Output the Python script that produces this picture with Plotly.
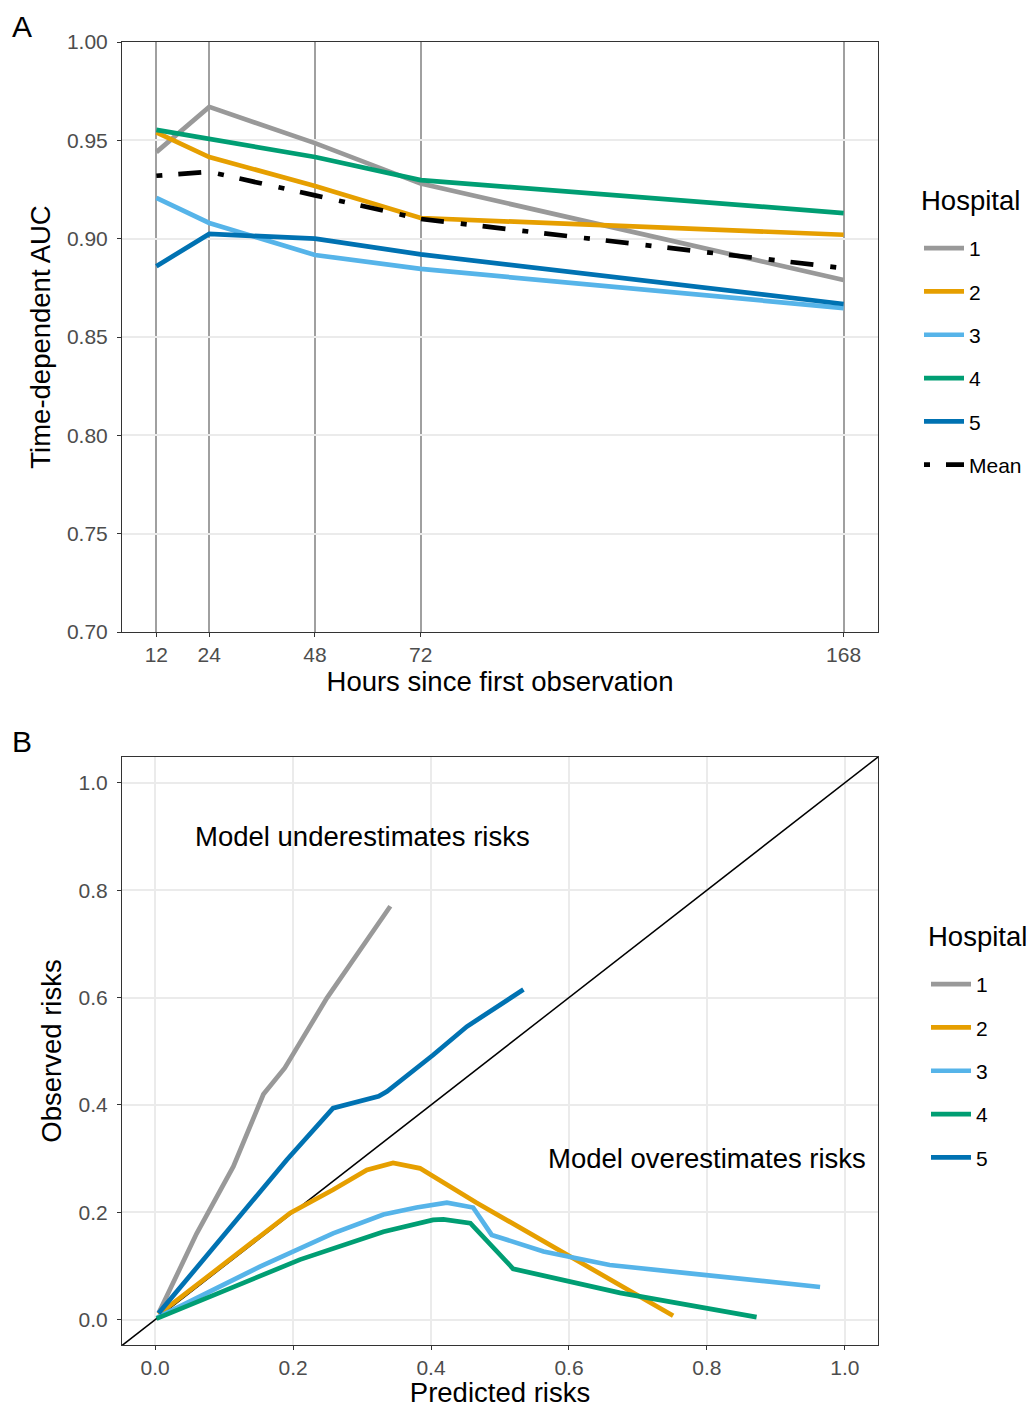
import plotly.graph_objects as go

# ---------------- Data: panel A ----------------
hours = [12, 24, 48, 72, 168]
hospitals = ["1", "2", "3", "4", "5"]
auc_h1 = [0.944, 0.967, 0.9486, 0.928, 0.879]
auc_h2 = [0.954, 0.9415, 0.9268, 0.9105, 0.902]
auc_h3 = [0.9207, 0.908, 0.8917, 0.8846, 0.8647]
auc_h4 = [0.9553, 0.9507, 0.9415, 0.9298, 0.913]
auc_h5 = [0.886, 0.9024, 0.900, 0.892, 0.8668]
auc_mean = [0.932, 0.934, 0.922, 0.910, 0.885]
auc_ticks = [0.70, 0.75, 0.80, 0.85, 0.90, 0.95, 1.00]

# ---------------- Data: panel B (calibration) ----------------
pred_h1 = [0.005, 0.06, 0.1135, 0.157, 0.188, 0.249, 0.341]
obs_h1 = [0.012, 0.16, 0.2855, 0.42, 0.469, 0.599, 0.770]
pred_h2 = [0.005, 0.196, 0.258, 0.307, 0.345, 0.384, 0.466, 0.601, 0.751]
obs_h2 = [0.010, 0.199, 0.242, 0.279, 0.292, 0.282, 0.218, 0.118, 0.0075]
pred_h3 = [0.003, 0.152, 0.258, 0.331, 0.379, 0.423, 0.461, 0.488, 0.563, 0.659, 0.771, 0.964]
obs_h3 = [0.004, 0.099, 0.161, 0.196, 0.209, 0.218, 0.209, 0.158, 0.127, 0.102, 0.087, 0.061]
pred_h4 = [0.002, 0.210, 0.331, 0.403, 0.418, 0.457, 0.519, 0.674, 0.872]
obs_h4 = [0.002, 0.112, 0.164, 0.186, 0.187, 0.180, 0.095, 0.050, 0.005]
pred_h5 = [0.005, 0.191, 0.258, 0.324, 0.336, 0.403, 0.452, 0.534]
obs_h5 = [0.012, 0.298, 0.394, 0.416, 0.425, 0.493, 0.546, 0.615]
risk_ticks = [0.0, 0.2, 0.4, 0.6, 0.8, 1.0]
identity = [-0.1, 1.1]

colors = ["#999999", "#E69F00", "#56B4E9", "#009E73", "#0072B2"]

FONT = "Liberation Sans, Arial, sans-serif"
W, H = 1035, 1408
LW = 4.7
TITLE_SIZE = 27.5

fig = go.Figure()

# Panel A traces
for name, vals, col in zip(hospitals, [auc_h1, auc_h2, auc_h3, auc_h4, auc_h5], colors):
    fig.add_trace(go.Scatter(x=hours, y=vals, mode="lines", name=name,
                             line=dict(color=col, width=LW),
                             xaxis="x", yaxis="y", legend="legend",
                             legendgroup="a" + name))
fig.add_trace(go.Scatter(x=hours, y=auc_mean, mode="lines", name="Mean",
                         line=dict(color="black", width=LW, dash="6px,16px,23px,17px"),
                         xaxis="x", yaxis="y", legend="legend", legendgroup="amean"))

# Panel B traces
fig.add_trace(go.Scatter(x=identity, y=identity, mode="lines", showlegend=False,
                         line=dict(color="black", width=1.5),
                         xaxis="x2", yaxis="y2", hoverinfo="skip"))
for name, px, oy, col in zip(hospitals,
                             [pred_h1, pred_h2, pred_h3, pred_h4, pred_h5],
                             [obs_h1, obs_h2, obs_h3, obs_h4, obs_h5], colors):
    fig.add_trace(go.Scatter(x=px, y=oy, mode="lines", name=name,
                             line=dict(color=col, width=LW),
                             xaxis="x2", yaxis="y2", legend="legend2",
                             legendgroup="b" + name))

def py(p):  # pixel y (from top) to paper
    return 1 - p / H

def pxp(p):
    return p / W

xdom = [pxp(122), pxp(878)]
axis_common = dict(
    showline=True, linecolor="#333333", linewidth=1, mirror=True,
    ticks="outside", ticklen=4, tickcolor="#333333", tickwidth=1,
    tickfont=dict(family=FONT, size=21, color="#4d4d4d"),
    zeroline=False, automargin=False,
)
title_font = dict(family=FONT, size=TITLE_SIZE, color="black")

fig.update_layout(
    width=W, height=H, margin=dict(l=0, r=0, t=0, b=0, autoexpand=False),
    paper_bgcolor="white", plot_bgcolor="white",
    font=dict(family=FONT, color="black"),
    xaxis=dict(domain=xdom, anchor="y", range=[4.2, 175.8], tickvals=hours,
               ticktext=[str(h) for h in hours],
               showgrid=True, gridcolor="#a0a0a0", gridwidth=2,
               title=dict(text="Hours since first observation", font=title_font, standoff=6),
               ticklabelstandoff=0, **axis_common),
    yaxis=dict(domain=[py(632), py(42)], anchor="x", range=[0.70, 1.00],
               tickvals=auc_ticks, tickformat=".2f",
               showgrid=True, gridcolor="#ebebeb", gridwidth=1.5,
               title=dict(text="Time-dependent AUC", font=title_font, standoff=8),
               ticklabelstandoff=5, **axis_common),
    xaxis2=dict(domain=xdom, anchor="y2", range=[-0.048, 1.048], tickvals=risk_ticks,
                tickformat=".1f", showgrid=True, gridcolor="#ebebeb", gridwidth=1.5,
                title=dict(text="Predicted risks", font=title_font, standoff=6),
                ticklabelstandoff=0, **axis_common),
    yaxis2=dict(domain=[py(1345), py(757)], anchor="x2", range=[-0.047, 1.048],
                tickvals=risk_ticks, tickformat=".1f",
                showgrid=True, gridcolor="#ebebeb", gridwidth=1.5,
                title=dict(text="Observed risks", font=title_font, standoff=8),
                ticklabelstandoff=5, **axis_common),
    legend=dict(x=pxp(919), y=py(228), xanchor="left", yanchor="top",
                bgcolor="rgba(0,0,0,0)", borderwidth=0,
                font=dict(family=FONT, size=21, color="black"),
                tracegroupgap=13, itemwidth=40),
    legend2=dict(x=pxp(926), y=py(964), xanchor="left", yanchor="top",
                 bgcolor="rgba(0,0,0,0)", borderwidth=0,
                 font=dict(family=FONT, size=21, color="black"),
                 tracegroupgap=13, itemwidth=40),
    showlegend=True,
)

# Legend titles
fig.add_annotation(text="Hospital", x=pxp(919), y=py(200), xref="paper", yref="paper",
                   xanchor="left", yanchor="middle", showarrow=False, font=title_font)
fig.add_annotation(text="Hospital", x=pxp(926), y=py(936), xref="paper", yref="paper",
                   xanchor="left", yanchor="middle", showarrow=False, font=title_font)

# Panel tags
fig.add_annotation(text="A", x=pxp(10), y=py(27), xref="paper", yref="paper",
                   xanchor="left", yanchor="middle", showarrow=False,
                   font=dict(family=FONT, size=30, color="black"))
fig.add_annotation(text="B", x=pxp(10), y=py(741), xref="paper", yref="paper",
                   xanchor="left", yanchor="middle", showarrow=False,
                   font=dict(family=FONT, size=30, color="black"))

# Region labels
fig.add_annotation(text="Model underestimates risks", x=0.30, y=0.90, xref="x2", yref="y2",
                   showarrow=False, font=title_font)
fig.add_annotation(text="Model overestimates risks", x=0.80, y=0.30, xref="x2", yref="y2",
                   showarrow=False, font=title_font)

fig.write_html("out.html")
